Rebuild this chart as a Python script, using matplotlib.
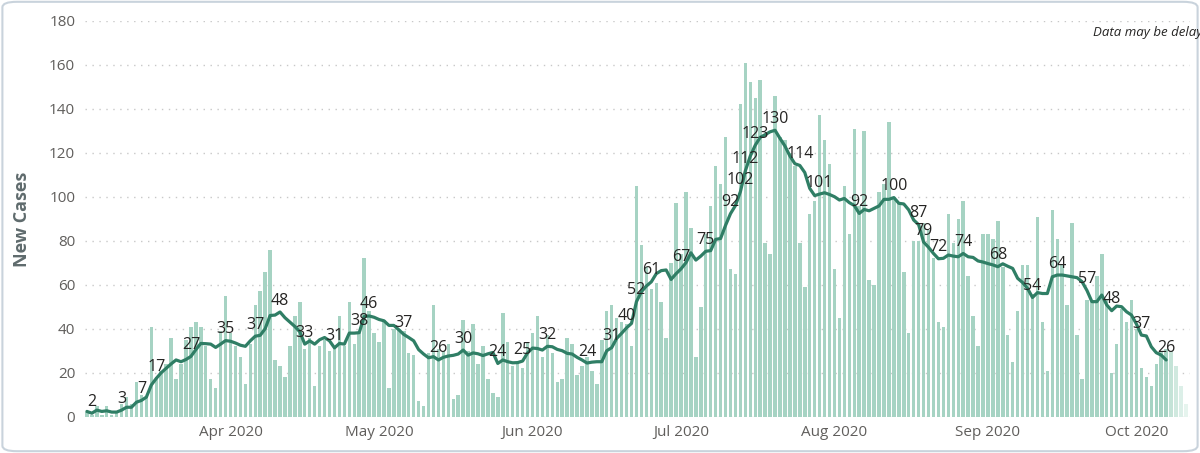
import numpy as np
import pandas as pd
import matplotlib
matplotlib.use("Agg")
import matplotlib.pyplot as plt
import matplotlib.dates as mdates
from matplotlib.patches import FancyBboxPatch

# ---------------- data ----------------
start_date = "2020-03-03"

daily_cases = [
    2, 1, 5, 1, 5, 1, 2, 6, 9, 6, 16, 10, 9, 41, 18, 21, 24, 36, 17, 24,
    35, 41, 43, 41, 32, 17, 13, 39, 55, 38, 32, 27, 15, 33, 51, 57, 66, 76, 26, 23,
    18, 32, 46, 52, 31, 36, 14, 32, 35, 30, 32, 46, 32, 52, 33, 38, 72, 48, 38, 34,
    44, 13, 40, 40, 39, 29, 28, 7, 5, 29, 51, 31, 30, 33, 8, 10, 44, 30, 42, 24,
    32, 17, 11, 9, 47, 34, 23, 25, 22, 34, 38, 46, 27, 37, 29, 16, 17, 36, 33, 19,
    23, 27, 21, 15, 35, 48, 51, 45, 43, 42, 32, 105, 78, 68, 58, 61, 52, 36, 70, 97,
    74, 102, 86, 27, 50, 83, 96, 114, 106, 127, 67, 65, 142, 161, 152, 145, 153, 79, 74, 146,
    127, 126, 120, 114, 79, 59, 92, 98, 137, 126, 115, 67, 45, 105, 83, 131, 96, 130, 62, 60,
    102, 106, 134, 100, 97, 66, 38, 80, 80, 88, 85, 72, 43, 41, 92, 79, 90, 98, 64, 46,
    32, 83, 83, 81, 89, 68, 37, 25, 48, 69, 69, 56, 91, 43, 21, 94, 81, 69, 51, 88,
    37, 17, 53, 53, 64, 74, 53, 20, 33, 49, 43, 53, 40, 22, 18, 14, 24, 30, 31, 30,
    23, 14, 6,
]

# number of trailing days drawn lighter (incomplete data)
incomplete_days = 4

rolling_avg = [
    2.4, 1.6, 3.0, 2.4, 2.7, 2.1, 2.1, 3.0, 4.3, 4.3, 6.6, 7.4, 8.9, 14.4, 17.4, 20, 22, 24, 25.8, 25,
    26, 27.4, 30.5, 33.3, 33.2, 33, 31.5, 33, 34.6, 34.3, 33.5, 32.5, 32, 34.5, 36.6, 37, 40, 46, 46.2, 47.6,
    45, 43, 41, 38.6, 33.0, 34.5, 33, 35, 36, 34.5, 31.3, 33.3, 33, 38, 38, 38.2, 45.5, 45.8, 45.2, 44.2,
    43.6, 41.5, 41.5, 39.5, 37.4, 36, 34.5, 30.5, 28.5, 26.8, 27.3, 25.8, 27, 27.6, 27.9, 28.5, 30.3, 28, 29, 28.6,
    27.8, 28.6, 29.2, 24.2, 25.8, 25, 24.5, 24.6, 25.3, 29, 31.2, 31, 30.3, 32, 31.8, 30.6, 30, 28.8, 28.5, 27,
    25.8, 24.4, 24.8, 25, 25, 30, 31.4, 35.6, 37.9, 40.4, 42.4, 52.3, 56.8, 59.4, 61.3, 65, 66.4, 66.7, 62.4, 65,
    67.2, 70, 74.5, 71.2, 73, 75.2, 75.5, 80.6, 81, 87, 92.3, 96, 102.3, 111.8, 118.5, 123.4, 127, 128.2, 129.5, 130.2,
    126.5, 123, 118.5, 115, 114.2, 111, 103.8, 100.5, 101.2, 101.8, 101, 100, 98.5, 99.2, 97.3, 96, 92.4, 94.2, 93.6, 94.7,
    95.8, 98.8, 98.8, 99.6, 97, 96.7, 94, 89.4, 87.3, 79.4, 77, 74.2, 71.8, 72, 73.5, 73, 72.7, 74.2, 72.7, 72.4,
    70.8, 70.3, 69.6, 69, 68.2, 69.5, 68.4, 67.4, 62.9, 61, 58.3, 54.2, 56.4, 56, 56, 63.6, 64.4, 64.4, 64, 63.6,
    63.2, 61.4, 57.4, 52.3, 52.3, 55.3, 50.8, 48.2, 50.3, 50, 47.7, 46.2, 42.1, 37.1, 36.7, 31.8, 29.1, 28, 25.8,
]

# day indices of the rolling-average points that carry a value label
label_days = [1, 7, 11, 14, 21, 28, 34, 39, 44, 50, 55, 57, 64, 71, 76, 83, 88, 93, 101, 106,
              109, 111, 114, 120, 125, 130, 132, 133, 135, 139, 144, 148, 156, 163, 168, 169,
              172, 177, 184, 191, 196, 202, 207, 213, 218]

month_ticks = ["2020-04-01", "2020-05-01", "2020-06-01", "2020-07-01",
               "2020-08-01", "2020-09-01", "2020-10-01"]
month_labels = ["Apr 2020", "May 2020", "Jun 2020", "Jul 2020",
                "Aug 2020", "Sep 2020", "Oct 2020"]
y_ticks = [0, 20, 40, 60, 80, 100, 120, 140, 160, 180]

# ---------------- styling ----------------
FONT = ["Open Sans", "DejaVu Sans"]
plt.rcParams["font.family"] = FONT
BAR_COLOR = "#a6d3c3"
LINE_COLOR = "#2f7e65"
TEXT_DARK = "#252423"
TICK_COLOR = "#605e5c"

dates = pd.date_range(start_date, periods=len(daily_cases), freq="D")
x = mdates.date2num(dates)
n = len(daily_cases)

fig = plt.figure(figsize=(12, 4.53), dpi=100)
fig.patch.set_facecolor("white")

# rounded card border
card = FancyBboxPatch((0.002, 0.004), 0.996, 0.992, boxstyle="round,pad=0,rounding_size=0.012",
                      transform=fig.transFigure, facecolor="none", edgecolor="#c9d3dc",
                      linewidth=1.5, zorder=0)
fig.patches.append(card)

ax = fig.add_axes([0.0708, 0.0801, 0.9208, 0.8742])
ax.set_facecolor("white")

colors = [BAR_COLOR] * n
# the incomplete days are progressively lighter
light_cols = ["#c4e3d7", "#d0e9df", "#dcefe8", "#e6f4ee"]
for k in range(incomplete_days):
    colors[n - incomplete_days + k] = light_cols[k]
ax.bar(x, daily_cases, width=0.7, color=colors, zorder=2, linewidth=0)

avg_x = x[:len(rolling_avg)]
ax.plot(avg_x, rolling_avg, color=LINE_COLOR, linewidth=2.3, zorder=3,
        solid_joinstyle="round", solid_capstyle="round")

for d in label_days:
    v = rolling_avg[d]
    ax.annotate(f"{round(v)}", (avg_x[d], v), xytext=(0, 2.5), textcoords="offset points",
                ha="center", va="bottom", fontsize=11.5, color=TEXT_DARK, zorder=4)

ax.set_ylim(0, 180)
ax.set_yticks(y_ticks)
ax.set_xlim(x[0] - 0.4, x[-1] + 0.8)
ax.set_xticks(mdates.date2num(pd.to_datetime(month_ticks)))
ax.set_xticklabels(month_labels)

ax.grid(axis="y", linestyle=(0, (1, 4)), color="#c8c8c8", linewidth=1.0, zorder=0)
ax.set_axisbelow(True)
for s in ax.spines.values():
    s.set_visible(False)
ax.tick_params(axis="both", length=0, labelsize=11, colors=TICK_COLOR)
ax.tick_params(axis="y", pad=7)
ax.tick_params(axis="x", pad=6)

fig.text(0.0185, 0.515, "New Cases", rotation=90, ha="center", va="center",
         fontsize=13, fontweight="bold", color="#5f6b6d")

# note is cut off at the right edge, as in the original dashboard
fig.text(0.911, 0.928, "Data may be delayed", ha="left", va="center",
         fontsize=9.5, style="italic", color=TEXT_DARK)

fig.savefig("out.png", dpi=100, facecolor="white")
